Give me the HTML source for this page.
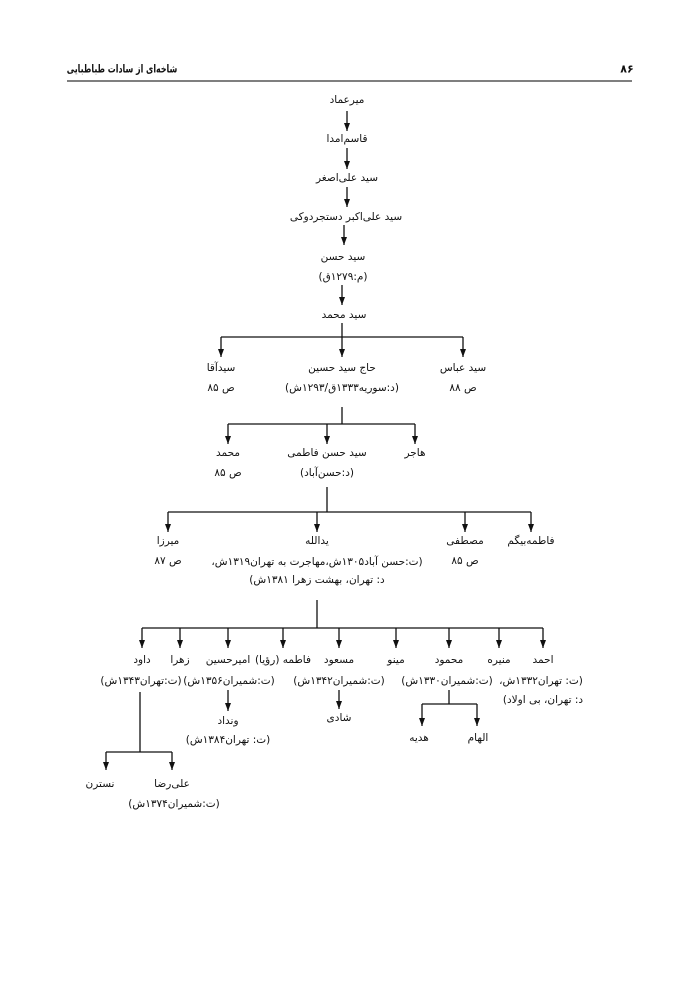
<!DOCTYPE html>
<html><head><meta charset="utf-8">
<style>
html,body{margin:0;padding:0;background:#fff;}
#p{position:relative;width:700px;height:989px;overflow:hidden;background:#fff;}
.t{position:absolute;transform:translate(-50%,-50%);white-space:nowrap;direction:rtl;font-family:"DejaVu Sans","Liberation Sans",sans-serif;font-size:10.5px;color:#111;line-height:1;}
.h{font-weight:bold;font-size:11px;}
svg{position:absolute;left:0;top:0;}
</style></head><body><div id="p">
<svg width="700" height="989" viewBox="0 0 700 989">
<defs><marker id="a" markerWidth="8" markerHeight="6" refX="8" refY="3" orient="auto" markerUnits="userSpaceOnUse"><path d="M0,0 L8,3 L0,6 z" fill="#111"/></marker></defs>
<line x1="67" y1="81" x2="632" y2="81" stroke="#555" stroke-width="1.6"/>
<g stroke="#111" stroke-width="1.3" fill="none">
<line x1="347" y1="111" x2="347" y2="131" marker-end="url(#a)"/>
<line x1="347" y1="148" x2="347" y2="169" marker-end="url(#a)"/>
<line x1="347" y1="187" x2="347" y2="207" marker-end="url(#a)"/>
<line x1="344" y1="225" x2="344" y2="245" marker-end="url(#a)"/>
<line x1="342" y1="285" x2="342" y2="305" marker-end="url(#a)"/>
<line x1="342" y1="323" x2="342" y2="337"/>
<line x1="221" y1="337" x2="463" y2="337"/>
<line x1="221" y1="337" x2="221" y2="357" marker-end="url(#a)"/>
<line x1="342" y1="337" x2="342" y2="357" marker-end="url(#a)"/>
<line x1="463" y1="337" x2="463" y2="357" marker-end="url(#a)"/>
<line x1="342" y1="407" x2="342" y2="424"/>
<line x1="228" y1="424" x2="415" y2="424"/>
<line x1="228" y1="424" x2="228" y2="444" marker-end="url(#a)"/>
<line x1="327" y1="424" x2="327" y2="444" marker-end="url(#a)"/>
<line x1="415" y1="424" x2="415" y2="444" marker-end="url(#a)"/>
<line x1="327" y1="487" x2="327" y2="512"/>
<line x1="168" y1="512" x2="531" y2="512"/>
<line x1="168" y1="512" x2="168" y2="532" marker-end="url(#a)"/>
<line x1="317" y1="512" x2="317" y2="532" marker-end="url(#a)"/>
<line x1="465" y1="512" x2="465" y2="532" marker-end="url(#a)"/>
<line x1="531" y1="512" x2="531" y2="532" marker-end="url(#a)"/>
<line x1="317" y1="600" x2="317" y2="628"/>
<line x1="142" y1="628" x2="543" y2="628"/>
<line x1="142" y1="628" x2="142" y2="648" marker-end="url(#a)"/>
<line x1="180" y1="628" x2="180" y2="648" marker-end="url(#a)"/>
<line x1="228" y1="628" x2="228" y2="648" marker-end="url(#a)"/>
<line x1="283" y1="628" x2="283" y2="648" marker-end="url(#a)"/>
<line x1="339" y1="628" x2="339" y2="648" marker-end="url(#a)"/>
<line x1="396" y1="628" x2="396" y2="648" marker-end="url(#a)"/>
<line x1="449" y1="628" x2="449" y2="648" marker-end="url(#a)"/>
<line x1="499" y1="628" x2="499" y2="648" marker-end="url(#a)"/>
<line x1="543" y1="628" x2="543" y2="648" marker-end="url(#a)"/>
<line x1="228" y1="690" x2="228" y2="711" marker-end="url(#a)"/>
<line x1="339" y1="690" x2="339" y2="709" marker-end="url(#a)"/>
<line x1="449" y1="690" x2="449" y2="704"/>
<line x1="422" y1="704" x2="477" y2="704"/>
<line x1="422" y1="704" x2="422" y2="726" marker-end="url(#a)"/>
<line x1="477" y1="704" x2="477" y2="726" marker-end="url(#a)"/>
<line x1="140" y1="692" x2="140" y2="752"/>
<line x1="106" y1="752" x2="172" y2="752"/>
<line x1="106" y1="752" x2="106" y2="770" marker-end="url(#a)"/>
<line x1="172" y1="752" x2="172" y2="770" marker-end="url(#a)"/>
</g>
</svg>
<div class="t h" style="left:122px;top:69px;font-size:11px;transform:translate(-50%,-50%) scaleX(0.72)">شاخه‌ای از سادات طباطبایی</div>
<div class="t h" style="left:627px;top:69px">۸۶</div>

<div class="t" style="left:347px;top:100px">میرعماد</div>
<div class="t" style="left:347px;top:139px">قاسم‌امدا</div>
<div class="t" style="left:347px;top:178px">سید علی‌اصغر</div>
<div class="t" style="left:346px;top:217px">سید علی‌اکبر دستجردوکی</div>
<div class="t" style="left:343px;top:257px">سید حسن</div>
<div class="t" style="left:343px;top:277px">(م:۱۲۷۹ق)</div>
<div class="t" style="left:344px;top:315px">سید محمد</div>

<div class="t" style="left:221px;top:368px">سیدآقا</div>
<div class="t" style="left:221px;top:388px">ص ۸۵</div>
<div class="t" style="left:342px;top:368px">حاج سید حسین</div>
<div class="t" style="left:342px;top:388px">(د:سوریه۱۳۳۳ق/۱۲۹۳ش)</div>
<div class="t" style="left:463px;top:368px">سید عباس</div>
<div class="t" style="left:463px;top:388px">ص ۸۸</div>

<div class="t" style="left:228px;top:453px">محمد</div>
<div class="t" style="left:228px;top:473px">ص ۸۵</div>
<div class="t" style="left:327px;top:453px">سید حسن فاطمی</div>
<div class="t" style="left:327px;top:473px">(د:حسن‌آباد)</div>
<div class="t" style="left:415px;top:453px">هاجر</div>

<div class="t" style="left:168px;top:541px">میرزا</div>
<div class="t" style="left:168px;top:561px">ص ۸۷</div>
<div class="t" style="left:317px;top:541px">یدالله</div>
<div class="t" style="left:317px;top:562px">(ت:حسن آباد۱۳۰۵ش،مهاجرت به تهران۱۳۱۹ش،</div>
<div class="t" style="left:317px;top:580px">د: تهران، بهشت زهرا ۱۳۸۱ش)</div>
<div class="t" style="left:465px;top:541px">مصطفی</div>
<div class="t" style="left:465px;top:561px">ص ۸۵</div>
<div class="t" style="left:531px;top:541px">فاطمه‌بیگم</div>

<div class="t" style="left:142px;top:660px">داود</div>
<div class="t" style="left:141px;top:681px">(ت:تهران۱۳۴۳ش)</div>
<div class="t" style="left:180px;top:660px">زهرا</div>
<div class="t" style="left:228px;top:660px">امیرحسین</div>
<div class="t" style="left:229px;top:681px">(ت:شمیران۱۳۵۶ش)</div>
<div class="t" style="left:283px;top:660px">فاطمه (رؤیا)</div>
<div class="t" style="left:339px;top:660px">مسعود</div>
<div class="t" style="left:339px;top:681px">(ت:شمیران۱۳۴۲ش)</div>
<div class="t" style="left:396px;top:660px">مینو</div>
<div class="t" style="left:449px;top:660px">محمود</div>
<div class="t" style="left:447px;top:681px">(ت:شمیران۱۳۳۰ش)</div>
<div class="t" style="left:499px;top:660px">منیره</div>
<div class="t" style="left:543px;top:660px">احمد</div>
<div class="t" style="left:541px;top:681px">(ت: تهران۱۳۳۲ش،</div>
<div class="t" style="left:543px;top:700px">د: تهران، بی اولاد)</div>

<div class="t" style="left:228px;top:721px">ونداد</div>
<div class="t" style="left:228px;top:740px">(ت: تهران۱۳۸۴ش)</div>
<div class="t" style="left:339px;top:718px">شادی</div>
<div class="t" style="left:419px;top:738px">هدیه</div>
<div class="t" style="left:478px;top:738px">الهام</div>

<div class="t" style="left:100px;top:784px">نسترن</div>
<div class="t" style="left:172px;top:784px">علی‌رضا</div>
<div class="t" style="left:174px;top:804px">(ت:شمیران۱۳۷۴ش)</div>
</div></body></html>
